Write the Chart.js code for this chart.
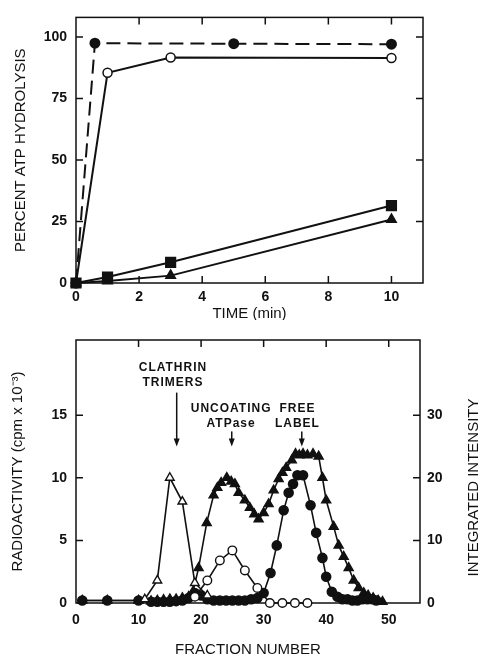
<!DOCTYPE html>
<html>
<head>
<meta charset="utf-8">
<script src="https://cdn.jsdelivr.net/npm/chart.js@4.4.1/dist/chart.umd.min.js"></script>
<style>
  html, body { margin: 0; padding: 0; background: #fff; }
  #wrap { position: relative; width: 479px; height: 656px; }
  .box { position: absolute; left: 0; width: 479px; }
  #top { top: 0; height: 320px; }
  #bottom { top: 320px; height: 336px; }
</style>
</head>
<body>
<div id="wrap">
  <div class="box" id="top"><canvas id="hydrolysisChart"></canvas></div>
  <div class="box" id="bottom"><canvas id="gradientChart"></canvas></div>
</div>
<script>
// ---- Top panel: percent ATP hydrolysis vs time ----
const timeTicks = [0, 2, 4, 6, 8, 10];
const pctTicks = [0, 25, 50, 75, 100];

const dashTime = [0, 0.6, 5, 10];
const dashPct = [0, 97.5, 97.3, 97.1];
const openTime = [0, 1, 3, 10];
const openPct = [0, 85.5, 91.7, 91.5];
const squareTime = [0, 1, 3, 10];
const squarePct = [0, 2.4, 8.4, 31.5];
const triTime = [0, 1, 3, 10];
const triPct = [0, 0.8, 3.0, 25.8];

// ---- Bottom panel: gradient fractions ----
const fractionTicks = [0, 10, 20, 30, 40, 50];
const radioTicks = [0, 5, 10, 15];
const intensityTicks = [0, 10, 20, 30];

// filled triangles (radioactivity)
const filledTriFraction = [1, 5, 10, 12, 13, 14, 15, 16, 17, 18, 18.7, 19.6, 20.9, 22.0, 22.6, 23.2, 24.1, 24.8, 25.4, 26.0,
  27.0, 27.8, 28.5, 29.2, 30.0, 30.8, 31.6, 32.4, 33.0, 33.6, 34.5, 35.1, 35.7, 36.3, 37.0, 37.9, 38.8, 39.4, 40.0,
  41.2, 42.0, 42.8, 43.6, 44.4, 45.2, 46.0, 46.7, 47.5, 48.3, 49.0];
const filledTriCpm = [0.2, 0.2, 0.2, 0.15, 0.2, 0.25, 0.3, 0.3, 0.4, 0.5, 0.9, 2.8, 6.4, 8.6, 9.2, 9.6, 10.0, 9.7, 9.5, 8.8,
  8.2, 7.6, 7.1, 6.7, 7.2, 7.9, 9.0, 9.9, 10.4, 10.8, 11.4, 11.9, 11.8, 11.9, 11.8, 11.9, 11.7, 10.0, 8.2,
  6.1, 4.6, 3.7, 2.8, 1.8, 1.2, 0.8, 0.6, 0.4, 0.2, 0.1];

// filled circles (free label)
const filledCircFraction = [1, 5, 10, 12, 13, 14, 15, 16, 17, 18, 19, 20, 21, 22, 23, 24, 25, 26, 27, 28, 29, 30,
  31.1, 32.1, 33.2, 34.0, 34.7, 35.4, 36.3, 37.5, 38.4, 39.4, 40.0, 40.9, 41.8, 42.6, 43.4, 44.2, 45.0, 45.8, 46.6, 47.4, 48.0];
const filledCircCpm = [0.2, 0.2, 0.2, 0.1, 0.1, 0.1, 0.1, 0.15, 0.2, 0.4, 0.8, 0.6, 0.3, 0.2, 0.2, 0.2, 0.2, 0.2, 0.2, 0.3, 0.4, 0.8,
  2.4, 4.6, 7.4, 8.8, 9.5, 10.2, 10.2, 7.8, 5.6, 3.6, 2.1, 0.9, 0.5, 0.3, 0.3, 0.2, 0.2, 0.3, 0.3, 0.3, 0.2];

// open circles (uncoating ATPase, integrated intensity)
const openCircFraction = [19, 21, 23, 25, 27, 29, 31, 33, 35, 37];
const openCircIntensity = [1.0, 3.6, 6.8, 8.4, 5.2, 2.4, 0, 0, 0, 0];

// open triangles (clathrin trimers, integrated intensity)
const openTriFraction = [11, 13, 15, 17, 19, 21];
const openTriIntensity = [0.6, 3.6, 20.0, 16.2, 3.2, 1.2];

// arrow labels
const labelLines = [['CLATHRIN', 'TRIMERS'], ['UNCOATING', 'ATPase'], ['FREE', 'LABEL']];
const labelFraction = [15.5, 24.8, 35.4];
const labelCpm = [[18.8, 17.6], [15.5, 14.3], [15.5, 14.3]];
const arrowFraction = [16.1, 24.9, 36.1];
const arrowFromCpm = [16.8, 13.7, 13.7];
const arrowToCpm = [12.5, 12.5, 12.5];

const INK = '#111';
const FAMILY = "'Liberation Sans', Arial, Helvetica, sans-serif";
const tickFont = { family: FAMILY, size: 14, weight: 'bold' };
const titleFont = { family: FAMILY, size: 15, weight: 'normal', lineHeight: 1.2 };

const toXY = (xs, ys) => xs.map((x, i) => ({ x, y: ys[i] }));
const fixedTicks = (vals) => (s) => { s.ticks = vals.map(v => ({ value: v })); };

// box around the plot plus inward tick marks
const framePlugin = (marks) => ({
  id: 'frame',
  beforeDatasetsDraw(chart) {
    const { ctx, chartArea: a, scales } = chart;
    const len = 7;
    ctx.save();
    ctx.strokeStyle = INK;
    ctx.lineWidth = 1.5;
    ctx.strokeRect(a.left, a.top, a.right - a.left, a.bottom - a.top);
    ctx.beginPath();
    (marks.xTop || []).forEach(v => {
      const p = scales.x.getPixelForValue(v);
      ctx.moveTo(p, a.top); ctx.lineTo(p, a.top + len);
    });
    (marks.xBottom || []).forEach(v => {
      const p = scales.x.getPixelForValue(v);
      ctx.moveTo(p, a.bottom); ctx.lineTo(p, a.bottom - len);
    });
    (marks.yLeft || []).forEach(v => {
      const p = scales.y.getPixelForValue(v);
      ctx.moveTo(a.left, p); ctx.lineTo(a.left + len, p);
    });
    (marks.yRight || []).forEach(v => {
      const p = scales[marks.rightId].getPixelForValue(v);
      ctx.moveTo(a.right, p); ctx.lineTo(a.right - len, p);
    });
    ctx.stroke();
    ctx.restore();
  }
});

const baseScale = {
  type: 'linear',
  grid: { display: false, drawTicks: false },
  border: { display: false },
};

// ---------- top chart ----------
new Chart(document.getElementById('hydrolysisChart'), {
  type: 'line',
  data: {
    datasets: [
      {
        data: toXY(dashTime, dashPct),
        borderColor: INK, borderWidth: 2, borderDash: [14, 7],
        pointStyle: 'circle', pointRadius: 4.5, pointBackgroundColor: INK, pointBorderColor: INK,
        clip: false
      },
      {
        data: toXY(openTime, openPct),
        borderColor: INK, borderWidth: 2,
        pointStyle: 'circle', pointRadius: 4.5, pointBackgroundColor: '#fff', pointBorderColor: INK, pointBorderWidth: 1.5,
        clip: false
      },
      {
        data: toXY(squareTime, squarePct),
        borderColor: INK, borderWidth: 2,
        pointStyle: 'rect', pointRadius: 6.5, pointBackgroundColor: INK, pointBorderColor: INK,
        clip: false
      },
      {
        data: toXY(triTime, triPct),
        borderColor: INK, borderWidth: 2,
        pointStyle: 'triangle', pointRadius: 5, pointBackgroundColor: INK, pointBorderColor: INK,
        clip: false
      }
    ]
  },
  options: {
    responsive: true,
    maintainAspectRatio: false,
    animation: false,
    layout: { padding: { top: 9, right: 56, bottom: 0, left: 0 } },
    plugins: { legend: { display: false }, tooltip: { enabled: false } },
    scales: {
      x: {
        ...baseScale, min: 0, max: 11,
        afterBuildTicks: fixedTicks(timeTicks),
        afterFit: s => { s.height = 37; },
        ticks: { color: INK, font: tickFont, padding: 6, maxRotation: 0 },
        title: { display: true, text: 'TIME (min)', color: INK, font: titleFont, padding: { top: 0, bottom: -3 } }
      },
      y: {
        ...baseScale, min: 0, max: 108,
        afterBuildTicks: fixedTicks(pctTicks),
        afterFit: s => { s.width = 76; },
        ticks: { color: INK, font: tickFont, padding: 9 },
        title: { display: true, text: 'PERCENT ATP HYDROLYSIS', color: INK, font: titleFont, padding: { top: 12, bottom: 0 } }
      }
    }
  },
  plugins: [framePlugin({ xTop: [2, 4, 6, 8, 10], xBottom: [2, 4, 6, 8, 10], yLeft: [25, 50, 75, 100], yRight: [25, 50, 75, 100], rightId: 'y' })]
});

// ---------- bottom chart ----------
const arrowLabels = {
  id: 'arrowLabels',
  afterDatasetsDraw(chart) {
    const { ctx, chartArea: a, scales: { x, y } } = chart;
    ctx.save();
    ctx.fillStyle = INK;
    ctx.strokeStyle = INK;
    ctx.font = `bold 12px ${FAMILY}`;
    ctx.letterSpacing = '1px';
    ctx.textAlign = 'center';
    ctx.textBaseline = 'middle';
    labelLines.forEach((lines, i) => {
      lines.forEach((t, j) => {
        ctx.fillText(t, x.getPixelForValue(labelFraction[i]), y.getPixelForValue(labelCpm[i][j]));
      });
      const ax = x.getPixelForValue(arrowFraction[i]);
      const y0 = y.getPixelForValue(arrowFromCpm[i]);
      const y1 = y.getPixelForValue(arrowToCpm[i]);
      ctx.lineWidth = 1.5;
      ctx.beginPath();
      ctx.moveTo(ax, y0);
      ctx.lineTo(ax, y1 - 5);
      ctx.stroke();
      ctx.beginPath();
      ctx.moveTo(ax - 3, y1 - 8);
      ctx.lineTo(ax + 3, y1 - 8);
      ctx.lineTo(ax, y1);
      ctx.closePath();
      ctx.fill();
    });
    // right-hand axis title, reading bottom to top
    ctx.letterSpacing = '0px';
    ctx.font = `15px ${FAMILY}`;
    ctx.translate(chart.width - 5, (a.top + a.bottom) / 2 + 16);
    ctx.rotate(-Math.PI / 2);
    ctx.textBaseline = 'middle';
    ctx.fillText('INTEGRATED INTENSITY', 0, 0);
    ctx.restore();
  }
};

new Chart(document.getElementById('gradientChart'), {
  type: 'line',
  data: {
    datasets: [
      {
        data: toXY(openTriFraction, openTriIntensity), yAxisID: 'y2',
        borderColor: INK, borderWidth: 1.6,
        pointStyle: 'triangle', pointRadius: 5, pointBackgroundColor: '#fff', pointBorderColor: INK, pointBorderWidth: 1.4,
        clip: false
      },
      {
        data: toXY(openCircFraction, openCircIntensity), yAxisID: 'y2',
        borderColor: INK, borderWidth: 1.6,
        pointStyle: 'circle', pointRadius: 4.3, pointBackgroundColor: '#fff', pointBorderColor: INK, pointBorderWidth: 1.4,
        clip: false
      },
      {
        data: toXY(filledCircFraction, filledCircCpm), yAxisID: 'y',
        borderColor: INK, borderWidth: 1.6,
        pointStyle: 'circle', pointRadius: 4.5, pointBackgroundColor: INK, pointBorderColor: INK,
        clip: false
      },
      {
        data: toXY(filledTriFraction, filledTriCpm), yAxisID: 'y',
        borderColor: INK, borderWidth: 1.6,
        pointStyle: 'triangle', pointRadius: 5, pointBackgroundColor: INK, pointBorderColor: INK,
        clip: false
      }
    ]
  },
  options: {
    responsive: true,
    maintainAspectRatio: false,
    animation: false,
    layout: { padding: { top: 20, right: 0, bottom: 0, left: 0 } },
    plugins: { legend: { display: false }, tooltip: { enabled: false } },
    scales: {
      x: {
        ...baseScale, min: 0, max: 55,
        afterBuildTicks: fixedTicks(fractionTicks),
        afterFit: s => { s.height = 53; },
        ticks: { color: INK, font: tickFont, padding: 9, maxRotation: 0 },
        title: { display: true, text: 'FRACTION NUMBER', color: INK, font: titleFont, padding: { top: 0, bottom: -3 } }
      },
      y: {
        ...baseScale, position: 'left', min: 0, max: 21,
        afterBuildTicks: fixedTicks(radioTicks),
        afterFit: s => { s.width = 76; },
        ticks: { color: INK, font: tickFont, padding: 9 },
        title: { display: true, text: 'RADIOACTIVITY (cpm x 10\u207B\u00B3)', color: INK, font: titleFont, padding: { top: 9, bottom: 0 } }
      },
      y2: {
        ...baseScale, position: 'right', min: 0, max: 42,
        afterBuildTicks: fixedTicks(intensityTicks),
        afterFit: s => { s.width = 59; },
        ticks: { color: INK, font: tickFont, padding: 7 }
      }
    }
  },
  plugins: [framePlugin({ xTop: [10, 20, 30, 40, 50], yLeft: [5, 10, 15], yRight: [10, 20, 30], rightId: 'y2' }), arrowLabels]
});
</script>
</body>
</html>
